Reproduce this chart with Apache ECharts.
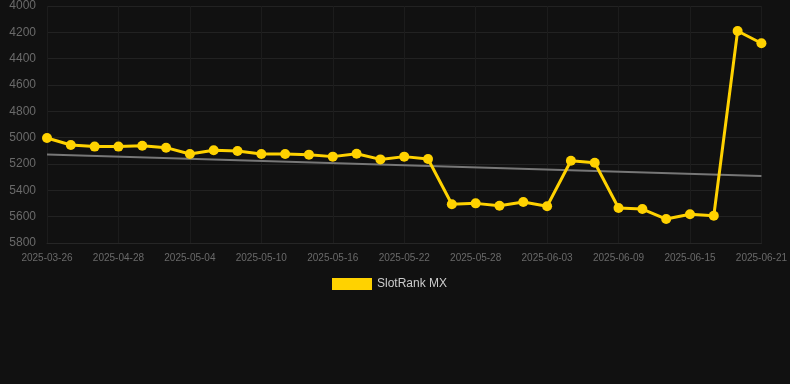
<!DOCTYPE html>
<html>
<head>
<meta charset="utf-8">
<script src="https://cdn.jsdelivr.net/npm/echarts@6/dist/echarts.min.js"></script>
<style>
html,body{margin:0;padding:0;background:#111111;}
#chart{width:790px;height:384px;}
</style>
</head>
<body>
<div id="chart"></div>
<script>
var categories = [
  "2025-03-26","2025-04-24","2025-04-26","2025-04-28","2025-04-30","2025-05-02",
  "2025-05-04","2025-05-06","2025-05-08","2025-05-10","2025-05-12","2025-05-14",
  "2025-05-16","2025-05-18","2025-05-20","2025-05-22","2025-05-24","2025-05-26",
  "2025-05-28","2025-05-30","2025-06-01","2025-06-03","2025-06-05","2025-06-07",
  "2025-06-09","2025-06-11","2025-06-13","2025-06-15","2025-06-17","2025-06-19",
  "2025-06-21"
];
var rankValues = [
  5003, 5056, 5068, 5068, 5061, 5076,
  5124, 5096, 5101, 5124, 5124, 5129,
  5144, 5122, 5165, 5144, 5162, 5506,
  5499, 5517, 5489, 5521, 5175, 5190,
  5534, 5542, 5618, 5582, 5593, 4190,
  4283
];
var trendStart = 5127;
var trendEnd = 5291;
var seriesName = "SlotRank MX";

var trendData = categories.map(function(_, i){
  if (i === 0) return trendStart;
  if (i === categories.length - 1) return trendEnd;
  return null;
});

var chart = echarts.init(document.getElementById('chart'));
chart.setOption({
  backgroundColor: '#111111',
  animation: false,
  grid: { left: 47, right: 28, top: 6, bottom: 141 },
  legend: {
    top: 278,
    left: 332,
    padding: 0,
    itemWidth: 40,
    itemHeight: 12,
    icon: 'rect',
    data: [seriesName],
    textStyle: { color: '#cccccc', fontSize: 12, fontFamily: 'Liberation Sans, Arial, sans-serif' }
  },
  xAxis: {
    type: 'category',
    data: categories,
    boundaryGap: false,
    axisLine: { lineStyle: { color: '#262626' } },
    axisTick: { show: false },
    axisLabel: { interval: 2, color: '#6a6a6a', fontSize: 10, margin: 10, fontFamily: 'Liberation Sans, Arial, sans-serif' },
    splitLine: { show: true, interval: 2, lineStyle: { color: '#1c1c1c' } }
  },
  yAxis: {
    type: 'value',
    inverse: true,
    min: 4000,
    max: 5800,
    interval: 200,
    axisLine: { show: false },
    axisTick: { show: false },
    axisLabel: { color: '#6a6a6a', fontSize: 12, margin: 11, fontFamily: 'Liberation Sans, Arial, sans-serif',
      formatter: function(v){ return String(v); } },
    splitLine: { lineStyle: { color: '#222222' } }
  },
  series: [
    {
      name: 'trend',
      type: 'line',
      data: trendData,
      connectNulls: true,
      symbol: 'none',
      lineStyle: { color: '#777777', width: 2 },
      z: 1,
      silent: true
    },
    {
      name: seriesName,
      type: 'line',
      data: rankValues,
      symbol: 'circle',
      symbolSize: 10,
      itemStyle: { color: '#FFD200' },
      lineStyle: { color: '#FFD200', width: 3 },
      z: 2
    }
  ]
});
</script>
</body>
</html>
